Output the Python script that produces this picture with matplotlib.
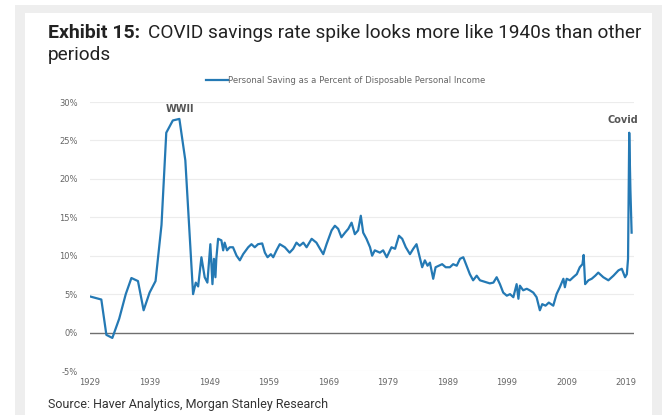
import matplotlib
matplotlib.use('Agg')
import matplotlib.pyplot as plt
from matplotlib.patches import Rectangle

# personal saving rate (%); x in chart-years
years = [1929.0, 1930.9, 1931.75, 1932.75, 1933.9, 1935.0, 1935.95, 1937.05, 1938.0, 1939.0,
         1940.0, 1941.0, 1941.8, 1942.9, 1944.0, 1945.0, 1946.3, 1946.75, 1947.15, 1947.7,
         1948.25, 1948.7, 1949.2, 1949.55, 1949.8, 1950.05, 1950.2, 1950.5, 1951.05, 1951.35,
         1951.6, 1952.0, 1952.45, 1953.0, 1953.6, 1954.15, 1954.7, 1955.55, 1956.1, 1956.65,
         1957.2, 1957.9, 1958.35, 1958.8, 1959.35, 1959.75, 1960.3, 1960.85, 1961.7, 1962.5,
         1963.1, 1963.65, 1964.2, 1964.8, 1965.35, 1966.2, 1967.0, 1967.6, 1968.15, 1968.7,
         1969.55, 1970.1, 1970.65, 1971.2, 1971.8, 1972.35, 1972.9, 1973.45, 1974.0, 1974.45,
         1974.85, 1975.4, 1976.0, 1976.35, 1976.8, 1977.65, 1978.2, 1978.8, 1979.6, 1980.2,
         1980.85, 1981.4, 1982.0, 1982.7, 1983.25, 1983.8, 1984.4, 1984.75, 1985.2, 1985.65,
         1986.05, 1986.6, 1987.0, 1987.55, 1988.1, 1988.7, 1989.4, 1989.95, 1990.55, 1991.1,
         1991.65, 1992.2, 1992.75, 1993.3, 1993.9, 1994.45, 1995.3, 1996.1, 1996.7, 1997.25,
         1997.8, 1998.35, 1998.95, 1999.5, 2000.05, 2000.6, 2000.9, 2001.15, 2001.7, 2002.3,
         2002.8, 2003.4, 2003.95, 2004.5, 2004.9, 2005.45, 2006.0, 2006.75, 2007.3, 2007.85,
         2008.45, 2008.7, 2009.0, 2009.55, 2010.1, 2010.7, 2011.2, 2011.65, 2011.85, 2012.1,
         2012.65, 2013.2, 2013.8, 2014.3, 2015.15, 2016.0, 2016.85, 2017.7, 2018.25, 2018.8,
         2019.1, 2019.3, 2019.5, 2019.6, 2019.7, 2019.75, 2019.85, 2019.9]
saving = [4.7, 4.3, -0.3, -0.7, 1.8, 5.0, 7.1, 6.7, 2.9, 5.2,
          6.7, 14.0, 26.0, 27.6, 27.8, 22.4, 5.0, 6.5, 6.0, 9.8,
          7.2, 6.5, 11.5, 6.3, 9.6, 7.2, 9.6, 12.2, 12.0, 10.7,
          11.7, 10.7, 11.1, 11.1, 10.0, 9.4, 10.2, 11.1, 11.5, 11.1,
          11.5, 11.6, 10.4, 9.8, 10.2, 9.8, 10.7, 11.5, 11.1, 10.4,
          10.9, 11.7, 11.3, 11.7, 11.1, 12.2, 11.7, 10.9, 10.2, 11.5,
          13.3, 13.9, 13.5, 12.4, 13.0, 13.5, 14.3, 12.8, 13.3, 15.2,
          13.0, 12.2, 11.1, 10.0, 10.7, 10.4, 10.7, 9.8, 11.1, 10.9,
          12.6, 12.2, 11.1, 10.2, 10.9, 11.5, 9.6, 8.5, 9.4, 8.7,
          9.1, 7.0, 8.5, 8.7, 8.9, 8.5, 8.5, 8.9, 8.7, 9.6,
          9.8, 8.7, 7.6, 6.8, 7.4, 6.8, 6.6, 6.4, 6.5, 7.2,
          6.3, 5.2, 4.8, 5.0, 4.6, 6.3, 4.4, 6.1, 5.5, 5.7,
          5.5, 5.2, 4.6, 2.9, 3.7, 3.5, 3.9, 3.5, 5.0, 5.9,
          7.0, 5.9, 7.0, 6.8, 7.2, 7.6, 8.5, 8.9, 10.1, 6.3,
          6.8, 7.0, 7.4, 7.8, 7.2, 6.8, 7.4, 8.1, 8.3, 7.2,
          7.6, 9.6, 26.0, 22.0, 18.5, 17.0, 14.0, 13.0]

xticks = [1929, 1939, 1949, 1959, 1969, 1979, 1989, 1999, 2009, 2019]
yticks = [-5, 0, 5, 10, 15, 20, 25, 30]

W, H = 670, 415
fig = plt.figure(figsize=(W / 100, H / 100), dpi=100)
fig.patch.set_facecolor('white')

# grey frame around the white panel
fig.patches.append(Rectangle((15 / W, 0), 647 / W, 1 - 5 / H, transform=fig.transFigure,
                             facecolor='#eeeeee', edgecolor='none', zorder=-2))
fig.patches.append(Rectangle((25 / W, 0), 627 / W, 1 - 13 / H, transform=fig.transFigure,
                             facecolor='white', edgecolor='none', zorder=-1))

ax = fig.add_axes([90 / W, 1 - 371 / H, 544 / W, 269 / H])
ax.plot(years, saving, color='#2479b4', lw=1.6, solid_joinstyle='round',
        label='Personal Saving as a Percent of Disposable Personal Income')

ax.set_xlim(1929, 2020.3)
ax.set_ylim(-5, 30)
ax.set_xticks(xticks)
ax.set_xticklabels([str(t) for t in xticks])
ax.set_yticks(yticks)
ax.set_yticklabels(['%d%%' % t for t in yticks])
for t in yticks:
    ax.axhline(t, color='#6f6f6f' if t == 0 else '#ececec', lw=1.0 if t == 0 else 0.8, zorder=0)
for s in ax.spines.values():
    s.set_visible(False)
ax.tick_params(length=0, labelsize=6, labelcolor='#666666')
ax.tick_params(axis='x', pad=5)
ax.tick_params(axis='y', pad=9)

ax.text(1944.1, 28.4, 'WWII', ha='center', va='bottom', fontsize=7,
        fontweight='bold', color='#555555')
ax.text(2018.5, 27.0, 'Covid', ha='center', va='bottom', fontsize=7,
        fontweight='bold', color='#555555')

ax.legend(loc='lower center', bbox_to_anchor=(0.47, 1.035), frameon=False, fontsize=6.1,
          handlelength=2.6, handletextpad=0.1, labelcolor='#666666')

t1 = fig.text(48 / W, 1 - 38 / H, 'Exhibit 15:', fontsize=14, fontweight='bold',
              family='Roboto', color='#222222')
fig.canvas.draw()
bb = t1.get_window_extent()
fig.text((bb.x1 + 8) / W, 1 - 38 / H, 'COVID savings rate spike looks more like 1940s than other',
         fontsize=13.7, family='Roboto', color='#222222')
fig.text(48 / W, 1 - 60 / H, 'periods', fontsize=13.7, family='Roboto', color='#222222')
fig.text(48 / W, 1 - 408 / H, 'Source: Haver Analytics, Morgan Stanley Research',
         fontsize=9, family='Roboto', color='#333333')

fig.savefig('out.png', dpi=100)
